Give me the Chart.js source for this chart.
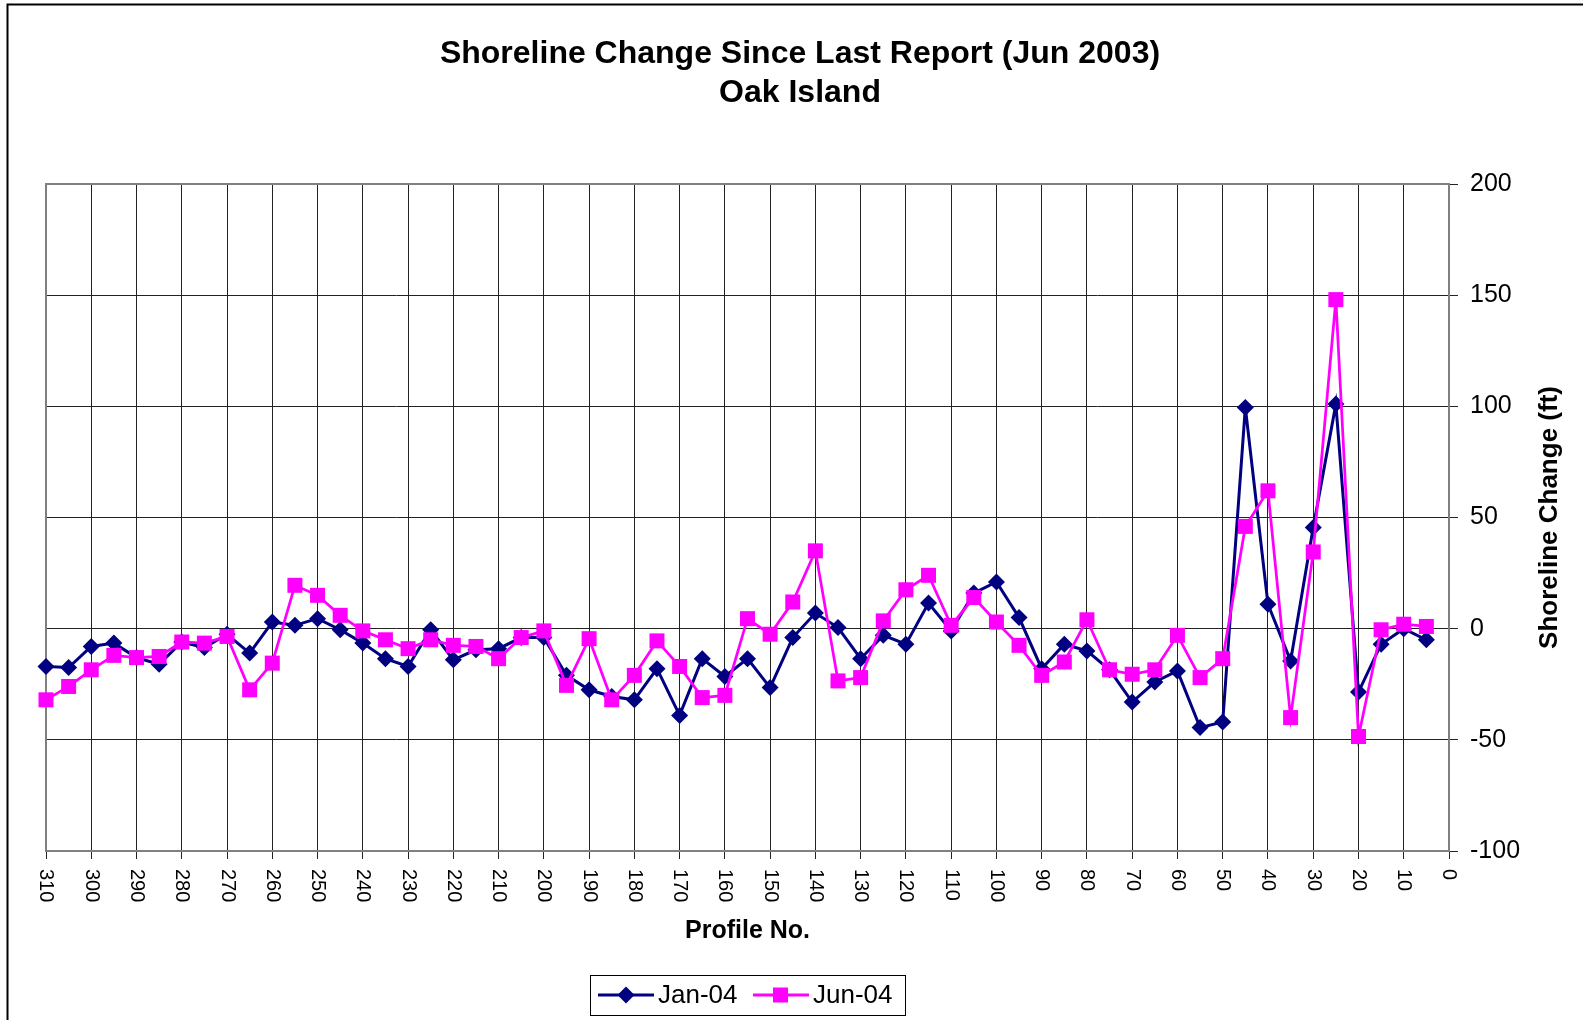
<!DOCTYPE html>
<html>
<head>
<meta charset="utf-8">
<script src="https://cdn.jsdelivr.net/npm/chart.js@4.4.0/dist/chart.umd.min.js"></script>
<style>
  body { margin: 0; background: #fff; }
  canvas { display: block; }
</style>
</head>
<body>
<canvas id="chart" width="1583" height="1020"></canvas>
<script>
// profile numbers, every 5 from 310 down to 5
const profiles = [310, 305, 300, 295, 290, 285, 280, 275, 270, 265, 260, 255, 250, 245, 240, 235,
  230, 225, 220, 215, 210, 205, 200, 195, 190, 185, 180, 175, 170, 165, 160, 155, 150, 145, 140,
  135, 130, 125, 120, 115, 110, 105, 100, 95, 90, 85, 80, 75, 70, 65, 60, 55, 50, 45, 40, 35, 30,
  25, 20, 15, 10, 5];

const jan04 = [-17, -17.5, -8, -6.5, -13, -16, -6, -8.5, -2.5, -11, 3, 1.5, 4.5, -0.5, -6.5, -13.5,
  -17, -0.5, -14, -9.5, -9, -4, -4, -21, -27.5, -30.5, -32, -18, -39, -13.5, -21.5, -13.5, -26.5, -4, 7,
  0.5, -13.5, -3, -7, 11.5, -1, 16, 21, 5, -18, -7, -10, -18.5, -33, -24, -19, -44.5, -42, 99.5, 11, -14.5, 45.5,
  101, -28.5, -7, 0, -5];

const jun04 = [-32, -26, -18.5, -12, -13, -12.5, -6, -6.5, -3.5, -27.5, -15.5, 19.5, 15, 6, -1, -5,
  -9, -5, -7.5, -8, -13.5, -4, -1, -25.5, -4.5, -32, -21, -5.5, -17, -31, -30, 4.5, -2.5, 12, 35,
  -23.5, -22, 3.5, 17.5, 24, 1.5, 14, 3, -7.5, -21, -15, 4, -18.5, -20.5, -18.5, -3, -22, -13.5, 46, 62, -40, 34.5,
  148, -48.5, -0.5, 2, 1];

const seriesNames = ['Jan-04', 'Jun-04'];
const titleLines = ['Shoreline Change Since Last Report (Jun 2003)', 'Oak Island'];
const xTitle = 'Profile No.';
const yTitle = 'Shoreline Change (ft)';

const NAVY = '#000080';
const PINK = '#FF00FF';
const FONT = "'Liberation Sans', Arial, sans-serif";

function toPoints(vals) {
  return profiles.map((p, i) => ({ x: p, y: vals[i] }));
}

const decor = {
  id: 'decor',
  beforeDraw(chart) {
    const { ctx, width, height } = chart;
    ctx.save();
    ctx.fillStyle = '#fff';
    ctx.fillRect(0, 0, width, height);
    ctx.restore();
  },
  beforeDatasetsDraw(chart) {
    const { ctx, chartArea: a } = chart;
    ctx.save();
    ctx.strokeStyle = '#808080';
    ctx.lineWidth = 2;
    ctx.strokeRect(a.left, a.top, a.right - a.left, a.bottom - a.top);
    ctx.restore();
  },
  afterDraw(chart) {
    const { ctx, chartArea: a } = chart;
    const xs = chart.scales.x;
    ctx.save();

    // outer frame
    ctx.strokeStyle = '#000';
    ctx.lineWidth = 2;
    ctx.beginPath();
    ctx.moveTo(7.5, 1020);
    ctx.lineTo(7.5, 4.5);
    ctx.lineTo(1583, 4.5);
    ctx.stroke();

    // title
    ctx.fillStyle = '#000';
    ctx.textAlign = 'center';
    ctx.textBaseline = 'alphabetic';
    ctx.font = 'bold 32px ' + FONT;
    ctx.fillText(titleLines[0], 800, 63);
    ctx.fillText(titleLines[1], 800, 102);

    // x tick labels, rotated to read downwards
    ctx.font = '20px ' + FONT;
    xs.ticks.forEach(t => {
      const px = xs.getPixelForValue(t.value);
      ctx.save();
      ctx.translate(px, a.bottom + 18);
      ctx.rotate(Math.PI / 2);
      ctx.textAlign = 'left';
      ctx.textBaseline = 'middle';
      ctx.fillText(String(t.value), 0, 0);
      ctx.restore();
    });

    // axis titles
    ctx.font = 'bold 25px ' + FONT;
    ctx.textAlign = 'center';
    ctx.fillText(xTitle, (a.left + a.right) / 2, 938);

    ctx.save();
    ctx.translate(1550, (a.top + a.bottom) / 2);
    ctx.rotate(-Math.PI / 2);
    ctx.font = 'bold 26px ' + FONT;
    ctx.textBaseline = 'middle';
    ctx.fillText(yTitle, 0, 0);
    ctx.restore();

    // legend
    const ly = 995;
    ctx.lineWidth = 1;
    ctx.strokeStyle = '#000';
    ctx.strokeRect(590.5, 975.5, 315, 40);
    ctx.font = '26px ' + FONT;
    ctx.textAlign = 'left';
    ctx.textBaseline = 'middle';

    ctx.strokeStyle = NAVY;
    ctx.lineWidth = 3;
    ctx.beginPath(); ctx.moveTo(598, ly); ctx.lineTo(654, ly); ctx.stroke();
    ctx.fillStyle = NAVY;
    ctx.beginPath();
    ctx.moveTo(626, ly - 8.5); ctx.lineTo(634.5, ly); ctx.lineTo(626, ly + 8.5); ctx.lineTo(617.5, ly);
    ctx.closePath(); ctx.fill();
    ctx.fillStyle = '#000';
    ctx.fillText(seriesNames[0], 658, ly + 1);

    ctx.strokeStyle = PINK;
    ctx.beginPath(); ctx.moveTo(753, ly); ctx.lineTo(809, ly); ctx.stroke();
    ctx.fillStyle = PINK;
    ctx.fillRect(773, ly - 7.5, 15, 15);
    ctx.fillStyle = '#000';
    ctx.fillText(seriesNames[1], 813, ly + 1);

    ctx.restore();
  }
};

new Chart(document.getElementById('chart').getContext('2d'), {
  type: 'line',
  data: {
    datasets: [
      {
        label: seriesNames[0],
        data: toPoints(jan04),
        borderColor: NAVY,
        backgroundColor: NAVY,
        borderWidth: 3,
        pointStyle: 'rectRot',
        pointRadius: 8.5,
        pointBorderWidth: 0,
        pointHoverRadius: 8.5,
        tension: 0,
        clip: false,
        order: 2
      },
      {
        label: seriesNames[1],
        data: toPoints(jun04),
        borderColor: PINK,
        backgroundColor: PINK,
        borderWidth: 2.75,
        pointStyle: 'rect',
        pointRadius: 10.6,
        pointBorderWidth: 0,
        pointHoverRadius: 10.6,
        tension: 0,
        clip: false,
        order: 1
      }
    ]
  },
  options: {
    responsive: false,
    devicePixelRatio: 1,
    animation: false,
    events: [],
    layout: { padding: { left: 46, top: 184, right: 0, bottom: 109 } },
    plugins: {
      legend: { display: false },
      title: { display: false },
      tooltip: { enabled: false }
    },
    scales: {
      x: {
        type: 'linear',
        reverse: true,
        min: 0,
        max: 310,
        ticks: { display: false, stepSize: 10 },
        grid: { color: '#222', lineWidth: 1, drawTicks: true, tickLength: 8 },
        border: { color: '#808080', width: 2 },
        afterFit(scale) { scale.height = 60; }
      },
      y: {
        position: 'right',
        min: -100,
        max: 200,
        ticks: {
          stepSize: 50,
          color: '#000',
          padding: 12,
          font: { family: FONT, size: 25 }
        },
        grid: { color: '#222', lineWidth: 1, drawTicks: true, tickLength: 9 },
        border: { color: '#808080', width: 2 },
        afterFit(scale) { scale.width = 134; }
      }
    }
  },
  plugins: [decor]
});
</script>
</body>
</html>
